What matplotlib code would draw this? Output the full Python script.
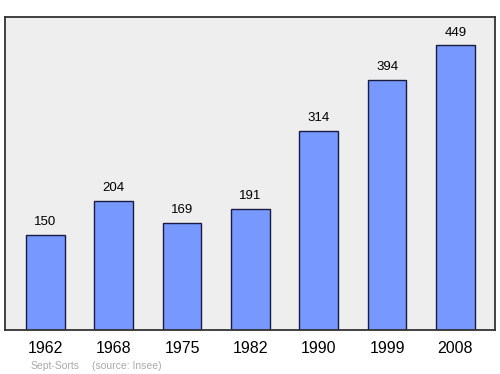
import matplotlib
matplotlib.use("Agg")
import matplotlib.pyplot as plt

plt.rcParams["font.family"] = ["Liberation Sans", "DejaVu Sans"]

years = ["1962", "1968", "1975", "1982", "1990", "1999", "2008"]
population = [150, 204, 169, 191, 314, 394, 449]

fig = plt.figure(figsize=(5, 3.74), dpi=100)
ax = fig.add_axes([0.01, 0.1176, 0.98, 0.837])
ax.set_facecolor("#eeeeee")

x = range(len(years))
ax.bar(x, population, width=0.57, color="#7799ff", edgecolor="#1a1a40", linewidth=1)
for i, v in zip(x, population):
    ax.text(i, v + 11, str(v), ha="center", va="bottom", fontsize=9.5)

ax.set_xlim(-0.59, 6.58)
ax.set_ylim(0, 494)
ax.set_yticks([])
ax.set_xticks(list(x))
ax.set_xticklabels(years, fontsize=11.5)
ax.tick_params(axis="x", length=0, pad=8)
for s in ax.spines.values():
    s.set_color("#333333")
    s.set_linewidth(1.3)

fig.text(0.062, 0.013, "Sept-Sorts", color="#aaaaaa", fontsize=7.5)
fig.text(0.183, 0.013, "(source: Insee)", color="#aaaaaa", fontsize=7.5)

fig.savefig("out.png")
